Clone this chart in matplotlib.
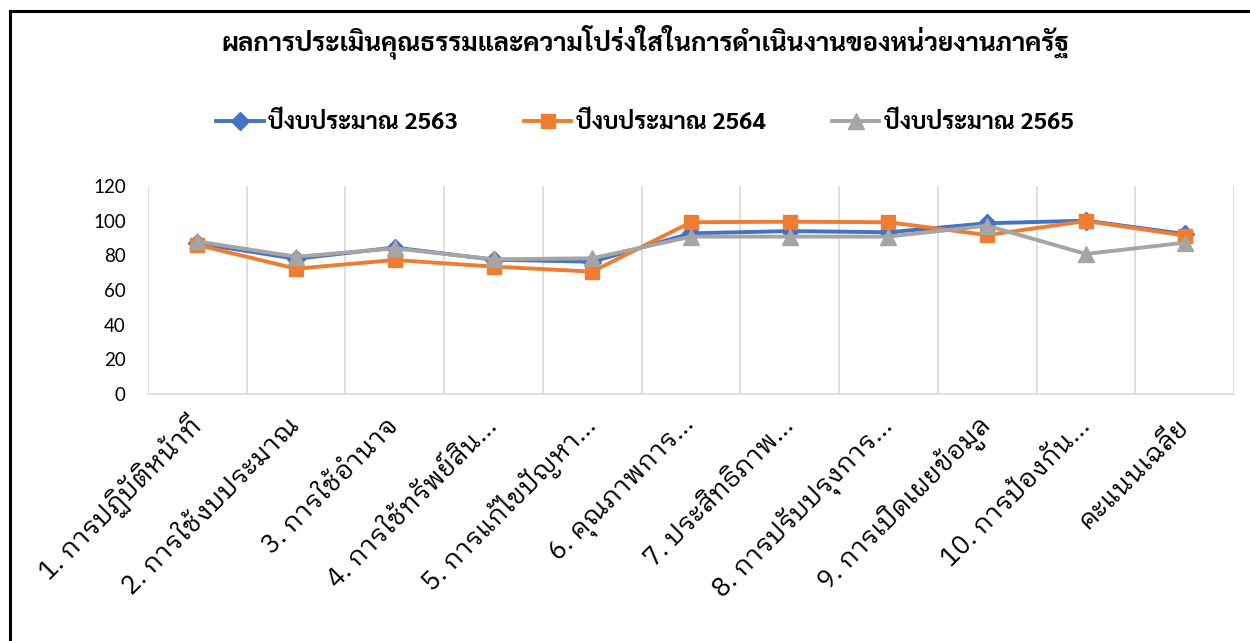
import matplotlib; matplotlib.use("Agg")
import matplotlib.pyplot as plt
from matplotlib.patches import Rectangle

categories = ['1. การปฏิบัติหน้าที่', '2. การใช้งบประมาณ', '3. การใช้อำนาจ',
              '4. การใช้ทรัพย์สิน...', '5. การแก้ไขปัญหา...', '6. คุณภาพการ...',
              '7. ประสิทธิภาพ...', '8. การปรับปรุงการ...', '9. การเปิดเผยข้อมูล',
              '10. การป้องกัน...', 'คะแนนเฉลี่ย']
y2563 = [87.0, 78.0, 84.5, 77.5, 76.3, 92.7, 94.0, 93.3, 98.5, 100.0, 92.3]
y2564 = [86.0, 72.3, 77.3, 73.5, 70.6, 99.1, 99.4, 99.1, 91.7, 99.8, 91.4]
y2565 = [88.0, 79.2, 84.0, 77.7, 78.3, 90.8, 90.8, 90.8, 97.1, 80.8, 87.3]
series_names = ['ปีงบประมาณ 2563', 'ปีงบประมาณ 2564', 'ปีงบประมาณ 2565']
title = 'ผลการประเมินคุณธรรมและความโปร่งใสในการดำเนินงานของหน่วยงานภาครัฐ'

thai_bold = ['Sarabun', 'Noto Sans Thai', 'DejaVu Sans']
thai_tick = ['IBM Plex Sans Thai Looped', 'Loma', 'DejaVu Sans']
num_font = ['Lato', 'DejaVu Sans']

fig = plt.figure(figsize=(12.5, 6.41), dpi=100)
ax = fig.add_axes([148/1250, 1-394/641, (1234-148)/1250, (394-186)/641])

x = range(len(categories))
ax.plot(x, y2563, color='#4472C4', lw=2.8, marker='D', ms=9, label=series_names[0])
ax.plot(x, y2564, color='#ED7D31', lw=2.8, marker='s', ms=10, label=series_names[1])
ax.plot(x, y2565, color='#A5A5A5', lw=2.8, marker='^', ms=11, label=series_names[2])

ax.set_xlim(-0.5, len(categories) - 0.5)
ax.set_ylim(0, 120)
ax.set_yticks(range(0, 121, 20))
ax.set_xticks(list(x))
ax.set_xticks([i - 0.5 for i in range(len(categories) + 1)], minor=True)
ax.grid(True, which='minor', axis='x', color='#D9D9D9', lw=1.2)
ax.tick_params(which='both', length=0)
ax.tick_params(axis='y', pad=16, labelsize=13.5)
ax.tick_params(axis='x', pad=20)
for t in ax.get_yticklabels():
    t.set_family(num_font)
ax.set_xticklabels(categories, rotation=45, ha='right', va='center', rotation_mode='anchor',
                   family=thai_tick, fontweight='normal', fontsize=19, color='black')
for s in ['left', 'right', 'top']:
    ax.spines[s].set_visible(False)
ax.spines['bottom'].set_color('#D9D9D9')
ax.spines['bottom'].set_linewidth(1.2)

fig.text(0.516, 1-42/641, title, ha='center', va='center', fontsize=18.7,
         fontweight='bold', family=thai_bold)
leg = fig.legend(loc='center', bbox_to_anchor=(0.516, 1-123/641), ncol=3, frameon=False,
                 prop={'family': thai_bold, 'weight': 'bold', 'size': 17},
                 handlelength=2.0, columnspacing=2.8, handletextpad=0.2)

fig.add_artist(Rectangle((10/1250, -0.1), 1.2, 1-11/641+0.1, transform=fig.transFigure,
                         fill=False, ec='black', lw=2.2))

fig.savefig('out.png')
